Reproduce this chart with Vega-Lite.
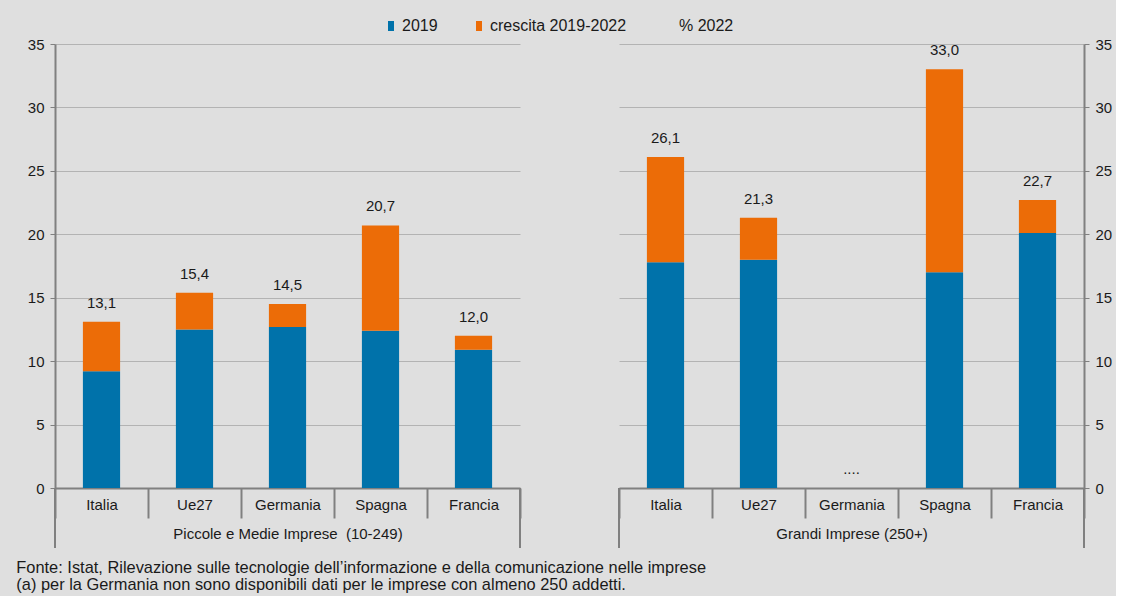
{
  "$schema": "https://vega.github.io/schema/vega-lite/v6.json",
  "background": "#dfdfdf",
  "padding": {"left": 16, "top": 18, "right": 4, "bottom": 3},
  "data": {"values": [
    {"gruppo": "PMI", "paese": "Italia", "serie": "2019", "valore": 9.2},
    {"gruppo": "PMI", "paese": "Italia", "serie": "crescita 2019-2022", "valore": 3.9},
    {"gruppo": "PMI", "paese": "Italia", "serie": "% 2022", "valore": 13.1, "etichetta": "13,1"},
    {"gruppo": "PMI", "paese": "Ue27", "serie": "2019", "valore": 12.5},
    {"gruppo": "PMI", "paese": "Ue27", "serie": "crescita 2019-2022", "valore": 2.9},
    {"gruppo": "PMI", "paese": "Ue27", "serie": "% 2022", "valore": 15.4, "etichetta": "15,4"},
    {"gruppo": "PMI", "paese": "Germania", "serie": "2019", "valore": 12.7},
    {"gruppo": "PMI", "paese": "Germania", "serie": "crescita 2019-2022", "valore": 1.8},
    {"gruppo": "PMI", "paese": "Germania", "serie": "% 2022", "valore": 14.5, "etichetta": "14,5"},
    {"gruppo": "PMI", "paese": "Spagna", "serie": "2019", "valore": 12.4},
    {"gruppo": "PMI", "paese": "Spagna", "serie": "crescita 2019-2022", "valore": 8.3},
    {"gruppo": "PMI", "paese": "Spagna", "serie": "% 2022", "valore": 20.7, "etichetta": "20,7"},
    {"gruppo": "PMI", "paese": "Francia", "serie": "2019", "valore": 10.9},
    {"gruppo": "PMI", "paese": "Francia", "serie": "crescita 2019-2022", "valore": 1.1},
    {"gruppo": "PMI", "paese": "Francia", "serie": "% 2022", "valore": 12.0, "etichetta": "12,0"},
    {"gruppo": "Grandi", "paese": "Italia", "serie": "2019", "valore": 17.8},
    {"gruppo": "Grandi", "paese": "Italia", "serie": "crescita 2019-2022", "valore": 8.3},
    {"gruppo": "Grandi", "paese": "Italia", "serie": "% 2022", "valore": 26.1, "etichetta": "26,1"},
    {"gruppo": "Grandi", "paese": "Ue27", "serie": "2019", "valore": 18.0},
    {"gruppo": "Grandi", "paese": "Ue27", "serie": "crescita 2019-2022", "valore": 3.3},
    {"gruppo": "Grandi", "paese": "Ue27", "serie": "% 2022", "valore": 21.3, "etichetta": "21,3"},
    {"gruppo": "Grandi", "paese": "Germania", "serie": "% 2022", "valore": 0, "etichetta": "...."},
    {"gruppo": "Grandi", "paese": "Spagna", "serie": "2019", "valore": 17.0},
    {"gruppo": "Grandi", "paese": "Spagna", "serie": "crescita 2019-2022", "valore": 16.0},
    {"gruppo": "Grandi", "paese": "Spagna", "serie": "% 2022", "valore": 33.0, "etichetta": "33,0"},
    {"gruppo": "Grandi", "paese": "Francia", "serie": "2019", "valore": 20.1},
    {"gruppo": "Grandi", "paese": "Francia", "serie": "crescita 2019-2022", "valore": 2.6},
    {"gruppo": "Grandi", "paese": "Francia", "serie": "% 2022", "valore": 22.7, "etichetta": "22,7"}
  ]},
  "title": {
    "text": ["Fonte: Istat, Rilevazione sulle tecnologie dell’informazione e della comunicazione nelle imprese", "(a) per la Germania non sono disponibili dati per le imprese con almeno 250 addetti."],
    "orient": "bottom", "anchor": "start", "font": "Liberation Sans", "fontSize": 16.4,
    "fontWeight": "normal", "color": "#1a1a1a", "lineHeight": 16.5, "offset": 11, "dx": -11
  },
  "spacing": 97,
  "hconcat": [
    {
      "width": 465, "height": 444,
      "transform": [{"filter": "datum.gruppo == 'PMI'"}],
      "encoding": {
        "x": {"field": "paese", "type": "nominal",
          "scale": {"domain": ["Italia", "Ue27", "Germania", "Spagna", "Francia"], "paddingInner": 0, "paddingOuter": 0},
          "axis": {"title": "Piccole e Medie Imprese \u00a0(10-249)", "labelAngle": 0, "tickBand": "extent",
            "tickSize": 30, "labelPadding": -21, "titlePadding": 7}}
      },
      "layer": [
        {
          "mark": {"type": "bar", "width": {"band": 0.4}},
          "transform": [{"filter": "datum.serie != '% 2022'"}],
          "encoding": {
            "y": {"field": "valore", "type": "quantitative", "stack": "zero",
              "scale": {"domain": [0, 35]},
              "axis": {"orient": "left", "values": [0, 5, 10, 15, 20, 25, 30, 35], "title": null}},
            "color": {"field": "serie", "type": "nominal",
              "scale": {"domain": ["2019", "crescita 2019-2022", "% 2022"], "range": ["#0072aa", "#ec6c07", "rgba(0,0,0,0)"]},
              "legend": {"title": null, "orient": "none", "legendX": 328, "legendY": -26}},
            "order": {"field": "serie", "type": "nominal", "sort": "ascending"}
          }
        },
        {
          "mark": {"type": "text", "baseline": "alphabetic", "dy": -14, "fontSize": 15, "font": "Liberation Sans", "color": "#1a1a1a"},
          "transform": [{"filter": "datum.serie == '% 2022'"}],
          "encoding": {
            "y": {"field": "valore", "type": "quantitative"},
            "text": {"field": "etichetta"}
          }
        },
        {
          "mark": {"type": "rule", "color": "#808080", "strokeWidth": 2},
          "transform": [{"filter": "datum.paese == 'Italia' && datum.serie == '2019'"}],
          "encoding": {
            "x": {"field": "paese", "type": "nominal", "bandPosition": 0},
            "y": {"datum": 0, "type": "quantitative", "title": null},
            "y2": {"datum": -4.73}
          }
        },
        {
          "mark": {"type": "rule", "color": "#808080", "strokeWidth": 2},
          "transform": [{"filter": "datum.paese == 'Francia' && datum.serie == '2019'"}],
          "encoding": {
            "x": {"field": "paese", "type": "nominal", "bandPosition": 1},
            "y": {"datum": 0, "type": "quantitative", "title": null},
            "y2": {"datum": -4.73}
          }
        }
      ]
    },
    {
      "width": 465, "height": 444,
      "transform": [{"filter": "datum.gruppo == 'Grandi'"}],
      "encoding": {
        "x": {"field": "paese", "type": "nominal",
          "scale": {"domain": ["Italia", "Ue27", "Germania", "Spagna", "Francia"], "paddingInner": 0, "paddingOuter": 0},
          "axis": {"title": "Grandi Imprese (250+)", "labelAngle": 0, "tickBand": "extent",
            "tickSize": 30, "labelPadding": -21, "titlePadding": 7}}
      },
      "layer": [
        {
          "mark": {"type": "bar", "width": {"band": 0.4}},
          "transform": [{"filter": "datum.serie != '% 2022'"}],
          "encoding": {
            "y": {"field": "valore", "type": "quantitative", "stack": "zero",
              "scale": {"domain": [0, 35]},
              "axis": {"orient": "right", "values": [0, 5, 10, 15, 20, 25, 30, 35], "title": null}},
            "color": {"field": "serie", "type": "nominal",
              "scale": {"domain": ["2019", "crescita 2019-2022", "% 2022"], "range": ["#0072aa", "#ec6c07", "rgba(0,0,0,0)"]},
              "legend": {"title": null, "orient": "none", "legendX": 328, "legendY": -26}},
            "order": {"field": "serie", "type": "nominal", "sort": "ascending"}
          }
        },
        {
          "mark": {"type": "text", "baseline": "alphabetic", "dy": -14, "fontSize": 15, "font": "Liberation Sans", "color": "#1a1a1a"},
          "transform": [{"filter": "datum.serie == '% 2022'"}],
          "encoding": {
            "y": {"field": "valore", "type": "quantitative"},
            "text": {"field": "etichetta"}
          }
        },
        {
          "mark": {"type": "rule", "color": "#808080", "strokeWidth": 2},
          "transform": [{"filter": "datum.paese == 'Italia' && datum.serie == '2019'"}],
          "encoding": {
            "x": {"field": "paese", "type": "nominal", "bandPosition": 0},
            "y": {"datum": 0, "type": "quantitative", "title": null},
            "y2": {"datum": -4.73}
          }
        },
        {
          "mark": {"type": "rule", "color": "#808080", "strokeWidth": 2},
          "transform": [{"filter": "datum.paese == 'Francia' && datum.serie == '2019'"}],
          "encoding": {
            "x": {"field": "paese", "type": "nominal", "bandPosition": 1},
            "y": {"datum": 0, "type": "quantitative", "title": null},
            "y2": {"datum": -4.73}
          }
        }
      ]
    }
  ],
  "config": {
    "view": {"stroke": null},
    "font": "Liberation Sans",
    "axis": {
      "labelFont": "Liberation Sans", "labelFontSize": 15, "labelColor": "#1a1a1a",
      "titleFont": "Liberation Sans", "titleFontSize": 15, "titleFontWeight": "normal", "titleColor": "#1a1a1a",
      "domainColor": "#808080", "domainWidth": 2, "tickColor": "#808080", "tickWidth": 2,
      "gridColor": "#b3b3b3", "gridWidth": 1
    },
    "axisX": {"grid": false},
    "axisY": {"grid": true, "tickSize": 5, "tickWidth": 1, "labelPadding": 6},
    "legend": {
      "direction": "horizontal",
      "symbolType": "M -0.6 -1 H 0.6 V 1 H -0.6 Z", "symbolSize": 100, "symbolStrokeWidth": 0,
      "labelFont": "Liberation Sans", "labelFontSize": 16, "labelColor": "#1a1a1a",
      "labelOffset": 3, "columnPadding": 33, "padding": 0
    }
  }
}
